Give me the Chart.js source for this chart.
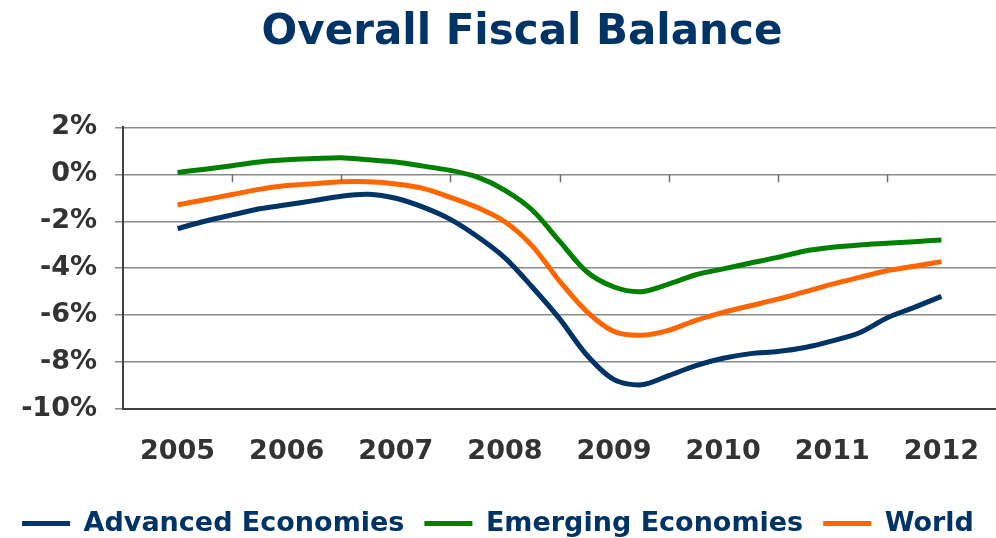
<!DOCTYPE html>
<html>
<head>
<meta charset="utf-8">
<title>Overall Fiscal Balance</title>
<script src="https://cdn.jsdelivr.net/npm/chart.js@4/dist/chart.umd.min.js"></script>
<style>
  html, body { margin: 0; padding: 0; background: #ffffff; }
  #wrap { width: 996px; height: 538px; }
</style>
</head>
<body>
<div id="wrap"><canvas id="chart" width="996" height="538"></canvas></div>
<script>
// Quarterly observation points (year fractions)
const quarters = [
  2005.00, 2005.25, 2005.50, 2005.75,
  2006.00, 2006.25, 2006.50, 2006.75,
  2007.00, 2007.25, 2007.50, 2007.75,
  2008.00, 2008.25, 2008.50, 2008.75,
  2009.00, 2009.25, 2009.50, 2009.75,
  2010.00, 2010.25, 2010.50, 2010.75,
  2011.00, 2011.25, 2011.50, 2011.75,
  2012.00
];

// Fiscal balance, % of GDP
const advancedEconomies = [
  -2.31, -2.00, -1.73, -1.47,
  -1.30, -1.12, -0.93, -0.85,
  -1.02, -1.40, -1.92, -2.66,
  -3.56, -4.80, -6.15, -7.70,
  -8.75, -8.97, -8.58, -8.15,
  -7.84, -7.64, -7.55, -7.38,
  -7.10, -6.75, -6.12, -5.67,
  -5.20
];
const emergingEconomies = [
   0.08,  0.22,  0.37,  0.53,
   0.62,  0.67,  0.71,  0.62,
   0.53,  0.35,  0.17, -0.12,
  -0.68, -1.52, -2.85, -4.15,
  -4.80, -5.00, -4.68, -4.28,
  -4.03, -3.78, -3.54, -3.27,
  -3.11, -3.01, -2.94, -2.87,
  -2.80
];
const world = [
  -1.30, -1.08, -0.86, -0.64,
  -0.48, -0.40, -0.32, -0.32,
  -0.41, -0.60, -0.98, -1.42,
  -2.02, -3.05, -4.55, -5.85,
  -6.70, -6.86, -6.65, -6.22,
  -5.88, -5.60, -5.32, -5.00,
  -4.68, -4.39, -4.11, -3.92,
  -3.72
];

const yearLabels = [2005, 2006, 2007, 2008, 2009, 2010, 2011, 2012];
const percentTicks = [2, 0, -2, -4, -6, -8, -10];

const NAVY = '#003366';
const GREEN = '#008000';
const ORANGE = '#ff6600';
const AXIS_TEXT = '#333333';
const FONT = "'DejaVu Sans', Verdana, sans-serif";

function toPoints(values) {
  return values.map((v, i) => ({ x: quarters[i], y: v }));
}

function lineSet(label, values, color) {
  return {
    label: label,
    data: toPoints(values),
    borderColor: color,
    backgroundColor: color,
    borderWidth: 5,
    pointRadius: 0,
    pointHoverRadius: 0,
    tension: 0.3,
    borderJoinStyle: 'round',
    fill: false
  };
}

// Small tick marks on the zero line, between the year labels
const zeroLineTicks = {
  id: 'zeroLineTicks',
  afterDatasetsDraw(chart) {
    const xs = chart.scales.x, ys = chart.scales.y;
    const y0 = ys.getPixelForValue(0);
    const ctx = chart.ctx;
    ctx.save();
    ctx.strokeStyle = '#6e6e6e';
    ctx.lineWidth = 1.5;
    ctx.beginPath();
    for (let k = 0; k < yearLabels.length - 1; k++) {
      const px = Math.round(xs.getPixelForValue(yearLabels[k] + 0.5)) + 0.5;
      ctx.moveTo(px, y0);
      ctx.lineTo(px, y0 + 8);
    }
    ctx.stroke();
    ctx.restore();
  }
};

// Title sits a little right of the page centre; legend hugs the bottom edge
const blockOffsets = {
  id: 'blockOffsets',
  afterLayout(chart) {
    const t = chart.titleBlock;
    if (t) { t.left += 24; t.right += 24; }
    const l = chart.legend;
    if (l) { l.top += 9; l.bottom += 9; }
  }
};

new Chart(document.getElementById('chart'), {
  type: 'line',
  data: {
    datasets: [
      lineSet('Advanced Economies', advancedEconomies, NAVY),
      lineSet('Emerging Economies', emergingEconomies, GREEN),
      lineSet('World', world, ORANGE)
    ]
  },
  options: {
    responsive: false,
    devicePixelRatio: 1,
    animation: false,
    events: [],
    layout: { padding: { left: 0, right: 0, top: 0, bottom: 0 } },
    plugins: {
      tooltip: { enabled: false },
      title: {
        display: true,
        text: 'Overall Fiscal Balance',
        color: NAVY,
        font: { family: FONT, size: 42, weight: 'bold' },
        padding: { top: 8, bottom: 69 }
      },
      legend: {
        position: 'bottom',
        labels: {
          color: NAVY,
          font: { family: FONT, size: 27, weight: 'bold' },
          boxWidth: 48,
          boxHeight: 5,
          padding: 20,
          generateLabels(chart) {
            return chart.data.datasets.map((ds, i) => ({
              text: ds.label,
              fillStyle: ds.borderColor,
              strokeStyle: ds.borderColor,
              lineWidth: 0,
              hidden: false,
              datasetIndex: i,
              fontColor: NAVY
            }));
          }
        }
      }
    },
    scales: {
      x: {
        type: 'linear',
        min: 2004.5,
        max: 2012.5,
        afterBuildTicks(scale) {
          scale.ticks = yearLabels.map(v => ({ value: v }));
        },
        afterFit(scale) {
          scale.height = 72;
          scale.paddingLeft = 0;
          scale.paddingRight = 0;
        },
        ticks: {
          color: AXIS_TEXT,
          font: { family: FONT, size: 27, weight: 'bold' },
          padding: 27,
          maxRotation: 0,
          autoSkip: false,
          callback: v => String(v)
        },
        grid: { display: false, drawTicks: false },
        border: { display: true, color: '#404040', width: 2 }
      },
      y: {
        min: -10,
        max: 2,
        afterBuildTicks(scale) {
          scale.ticks = percentTicks.map(v => ({ value: v }));
        },
        afterFit(scale) { scale.width = 123; },
        ticks: {
          color: AXIS_TEXT,
          font: { family: FONT, size: 27, weight: 'bold' },
          padding: 18,
          callback: v => v + '%'
        },
        grid: {
          color: '#8a8a8a',
          lineWidth: 1.5,
          tickLength: 8,
          drawTicks: true
        },
        border: { display: true, color: '#404040', width: 2 }
      }
    }
  },
  plugins: [zeroLineTicks, blockOffsets]
});
</script>
</body>
</html>
